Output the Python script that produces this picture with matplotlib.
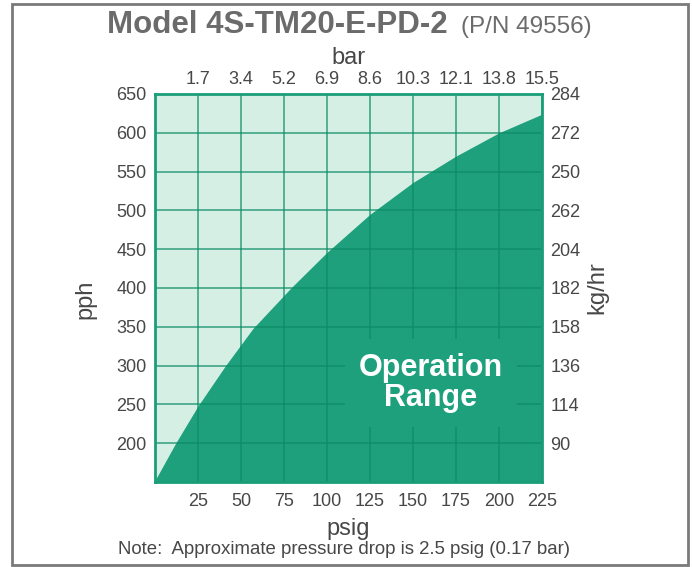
import matplotlib
matplotlib.use('Agg')
import matplotlib.pyplot as plt
from matplotlib.patches import Rectangle

plt.rcParams['font.family'] = ['Liberation Sans', 'DejaVu Sans']

# boundary of the operating range
psig_pts = [0, 12, 25, 41, 57, 79, 100, 125, 150, 175, 200, 225]
pph_pts = [152, 200, 248, 300, 348, 400, 446, 495, 536, 570, 600, 624]

psig_ticks = [25, 50, 75, 100, 125, 150, 175, 200, 225]
bar_labels = ['1.7', '3.4', '5.2', '6.9', '8.6', '10.3', '12.1', '13.8', '15.5']
pph_ticks = [200, 250, 300, 350, 400, 450, 500, 550, 600, 650]
kghr_labels = ['90', '114', '136', '158', '182', '204', '262', '250', '272', '284']

light = '#d6efe5'
dark = '#1ea07d'
grid_col = '#0b8c66'
text_col = '#474747'

fig = plt.figure(figsize=(6.92, 5.67), dpi=100)
ax = fig.add_axes([155 / 692, 1 - 482 / 567, 387 / 692, 388 / 567])
ax.set_facecolor(light)
ax.fill_between(psig_pts, pph_pts, 150, color=dark, lw=0, zorder=1)

ax.set_xlim(0, 225)
ax.set_ylim(150, 650)
ax.set_xticks(psig_ticks)
ax.set_yticks(pph_ticks)
ax.grid(True, color=grid_col, alpha=0.75, lw=1.2, zorder=2)
ax.set_axisbelow(False)
ax.tick_params(length=0, labelsize=13, labelcolor=text_col)
ax.tick_params(axis='x', pad=8)
ax.tick_params(axis='y', pad=6)
for sp in ax.spines.values():
    sp.set_color('#1a9e78')
    sp.set_linewidth(2)
    sp.set_zorder(4)
ax.set_xlabel('psig', fontsize=17, color=text_col, labelpad=6)
ax.set_ylabel('pph', fontsize=17, color=text_col, labelpad=9)
ax.yaxis.set_label_coords(-0.152, 0.47)

# bar scale on top
axt = ax.twiny()
axt.set_xlim(ax.get_xlim())
axt.set_xticks(psig_ticks)
axt.set_xticklabels(bar_labels)
axt.tick_params(length=0, labelsize=13, labelcolor=text_col, pad=4)
axt.set_xlabel('bar', fontsize=17, color=text_col, labelpad=5)

# kg/hr scale on the right
axr = ax.twinx()
axr.set_ylim(ax.get_ylim())
axr.set_yticks(pph_ticks)
axr.set_yticklabels(kghr_labels)
axr.tick_params(length=0, labelsize=13, labelcolor=text_col, pad=6)
axr.set_ylabel('kg/hr', fontsize=17, color=text_col, labelpad=4)
for a in (axt, axr):
    for sp in a.spines.values():
        sp.set_visible(False)

ax.text(0.713, 0.255, 'Operation\nRange', transform=ax.transAxes,
        ha='center', va='center', fontsize=22, fontweight='bold',
        color='white', linespacing=1.0, zorder=5,
        bbox=dict(boxstyle='square,pad=0.45', fc=dark, ec='none'))

fig.text(107 / 692, 1 - 33 / 567, 'Model 4S-TM20-E-PD-2', fontsize=22.5,
         fontweight='bold', color='#6b6b6b', va='baseline', ha='left')
fig.text(461 / 692, 1 - 33 / 567, '(P/N 49556)', fontsize=17.5,
         color='#6b6b6b', va='baseline', ha='left')
fig.text(0.497, 1 - 549 / 567,
         'Note:  Approximate pressure drop is 2.5 psig (0.17 bar)',
         fontsize=13.4, color=text_col, ha='center', va='center')

fig.patches.append(Rectangle((12 / 692, 1 - 565 / 567), 676 / 692, 561 / 567,
                             transform=fig.transFigure, fill=False,
                             ec='#7a7a7a', lw=2))

fig.savefig('out.png', dpi=100)
